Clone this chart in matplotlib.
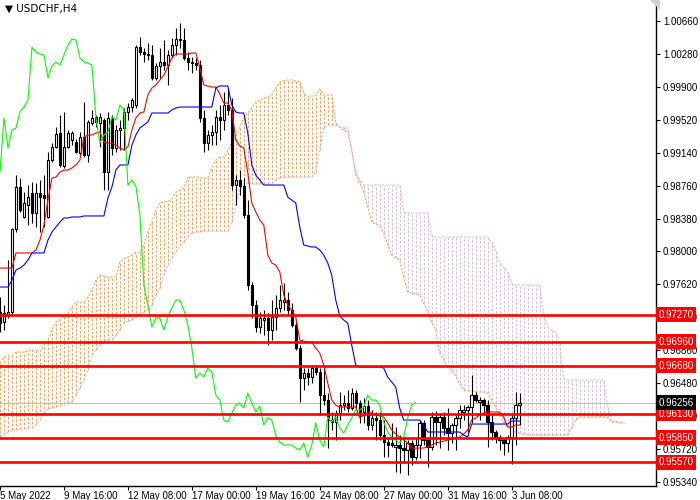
import numpy as np
import matplotlib
matplotlib.use("Agg")
import matplotlib.pyplot as plt
from matplotlib.patches import Polygon
from matplotlib.transforms import blended_transform_factory

plt.rcParams['font.family'] = ['Liberation Sans', 'DejaVu Sans']

# USDCHF H4 candles (bar 0 = 5 May 2022 00:00)
opens = [
    0.97302, 0.97186, 0.97267, 0.97302, 0.98259, 0.98744, 0.98398, 0.98536, 0.98674, 0.98444,
    0.98674, 0.98651, 0.98398, 0.99056, 0.99205, 0.99367, 0.98987, 0.99205, 0.99286, 0.99263,
    0.99136, 0.99321, 0.99113, 0.99482, 0.99552, 0.99482, 0.99517, 0.98917, 0.99541, 0.99194,
    0.99402, 0.99425, 0.99610, 0.99667, 0.99690, 1.00359, 1.00302, 1.00279, 1.00267, 1.00002,
    1.00141, 1.00187, 1.00152, 1.00267, 1.00382, 1.00452, 1.00440, 1.00233, 1.00187, 1.00175,
    1.00152, 0.99541, 0.99251, 0.99344, 0.99379, 0.99552, 0.99517, 0.99690, 0.99633, 0.98767,
    0.98825, 0.98756, 0.98421, 0.97613, 0.97382, 0.97129, 0.97209, 0.97233, 0.97094, 0.97244,
    0.97348, 0.97417, 0.97440, 0.97325, 0.97152, 0.96886, 0.96540, 0.96598, 0.96552, 0.96655,
    0.96609, 0.96344, 0.96286, 0.96055, 0.96032, 0.96136, 0.96228, 0.96251, 0.96194, 0.96367,
    0.96251, 0.96148, 0.96217, 0.95998, 0.96079, 0.96055, 0.95882, 0.95801, 0.95790, 0.95744,
    0.95767, 0.95732, 0.95709, 0.95790, 0.95628, 0.95767, 0.96021, 0.95824, 0.95744, 0.96090,
    0.96032, 0.96090, 0.95963, 0.95905, 0.95998, 0.96079, 0.96148, 0.96171, 0.96205, 0.96344,
    0.96263, 0.96286, 0.96228, 0.96032, 0.95917, 0.95859, 0.95824, 0.95790, 0.95859, 0.96079,
    0.96228,
]
highs = [
    0.97475, 0.97382, 0.97902, 0.98271, 0.98882, 0.98848, 0.98686, 0.98767, 0.98802, 0.98790,
    0.98825, 0.98882, 0.99148, 0.99251, 0.99436, 0.99575, 0.99610, 0.99402, 0.99390, 0.99298,
    0.99379, 0.99725, 0.99517, 0.99633, 0.99575, 0.99598, 0.99541, 0.99610, 0.99575, 0.99459,
    0.99517, 0.99656, 0.99713, 0.99771, 1.00382, 1.00475, 1.00348, 1.00405, 1.00382, 1.00175,
    1.00348, 1.00440, 1.00325, 1.00464, 1.00579, 1.00637, 1.00579, 1.00302, 1.00244, 1.00233,
    1.00210, 0.99633, 0.99402, 0.99459, 0.99633, 0.99690, 0.99840, 0.99887, 0.99771, 0.98882,
    0.98940, 0.98848, 0.98594, 0.97648, 0.97440, 0.97302, 0.97325, 0.97290, 0.97440, 0.97498,
    0.97613, 0.97636, 0.97532, 0.97406, 0.97209, 0.96920, 0.96655, 0.96655, 0.96690, 0.96690,
    0.96655, 0.96667, 0.96367, 0.96148, 0.96171, 0.96378, 0.96344, 0.96401, 0.96425, 0.96401,
    0.96286, 0.96309, 0.96286, 0.96171, 0.96148, 0.96148, 0.96055, 0.95859, 0.96021, 0.95975,
    0.95882, 0.95859, 0.95824, 0.95824, 0.95848, 0.96055, 0.96055, 0.95848, 0.96148, 0.96159,
    0.96136, 0.96148, 0.96194, 0.96021, 0.96113, 0.96228, 0.96228, 0.96228, 0.96575, 0.96378,
    0.96321, 0.96309, 0.96286, 0.96113, 0.95940, 0.95882, 0.95848, 0.95882, 0.96113, 0.96378,
    0.96367,
]
lows = [
    0.97071, 0.97094, 0.97233, 0.97256, 0.98225, 0.98456, 0.98387, 0.98305, 0.98328, 0.98282,
    0.98225, 0.98282, 0.98387, 0.99033, 0.99194, 0.98975, 0.98964, 0.99194, 0.99228, 0.99136,
    0.99113, 0.99090, 0.99033, 0.99459, 0.99436, 0.99205, 0.98709, 0.98709, 0.99113, 0.99148,
    0.99171, 0.99171, 0.99517, 0.99610, 0.99656, 1.00267, 1.00187, 1.00210, 0.99979, 0.99979,
    1.00002, 1.00094, 0.99921, 1.00233, 1.00267, 1.00348, 1.00210, 1.00094, 1.00059, 1.00094,
    0.99494, 0.99148, 0.99171, 0.99228, 0.99228, 0.99286, 0.99402, 0.99575, 0.98709, 0.98536,
    0.98651, 0.98387, 0.97555, 0.97233, 0.97071, 0.97059, 0.97036, 0.96920, 0.96978, 0.97094,
    0.97302, 0.97325, 0.97267, 0.97129, 0.96863, 0.96263, 0.96401, 0.96459, 0.96482, 0.96575,
    0.96113, 0.96228, 0.95732, 0.95940, 0.95824, 0.96055, 0.96171, 0.96148, 0.96171, 0.96171,
    0.96021, 0.96021, 0.95940, 0.95940, 0.95824, 0.95824, 0.95628, 0.95628, 0.95744, 0.95455,
    0.95444, 0.95559, 0.95421, 0.95536, 0.95594, 0.95617, 0.95767, 0.95513, 0.95709, 0.95767,
    0.95732, 0.95882, 0.95709, 0.95790, 0.95709, 0.95963, 0.96055, 0.95917, 0.96021, 0.96263,
    0.96055, 0.96113, 0.95744, 0.95824, 0.95790, 0.95709, 0.95651, 0.95686, 0.95548, 0.95767,
    0.95998,
]
closes = [
    0.97174, 0.97290, 0.97302, 0.98259, 0.98744, 0.98479, 0.98559, 0.98628, 0.98444, 0.98674,
    0.98628, 0.98617, 0.99056, 0.99205, 0.99356, 0.98998, 0.99205, 0.99367, 0.99367, 0.99148,
    0.99321, 0.99113, 0.99494, 0.99541, 0.99494, 0.99552, 0.98917, 0.99541, 0.99194, 0.99402,
    0.99425, 0.99610, 0.99667, 0.99748, 1.00359, 1.00302, 1.00279, 1.00267, 1.00002, 1.00141,
    1.00187, 1.00152, 1.00267, 1.00382, 1.00452, 1.00440, 1.00233, 1.00187, 1.00175, 1.00152,
    0.99541, 0.99251, 0.99344, 0.99379, 0.99552, 0.99517, 0.99690, 0.99633, 0.98767, 0.98825,
    0.98756, 0.98421, 0.97613, 0.97382, 0.97129, 0.97233, 0.97233, 0.97094, 0.97244, 0.97348,
    0.97440, 0.97440, 0.97325, 0.97152, 0.96886, 0.96540, 0.96598, 0.96552, 0.96655, 0.96609,
    0.96344, 0.96286, 0.96055, 0.96032, 0.96136, 0.96228, 0.96251, 0.96194, 0.96367, 0.96251,
    0.96148, 0.96217, 0.95998, 0.96079, 0.96055, 0.95882, 0.95801, 0.95767, 0.95767, 0.95767,
    0.95732, 0.95709, 0.95790, 0.95628, 0.95767, 0.96021, 0.95824, 0.95744, 0.96090, 0.96032,
    0.96090, 0.95963, 0.95905, 0.95998, 0.96079, 0.96171, 0.96171, 0.96205, 0.96344, 0.96286,
    0.96286, 0.96228, 0.96032, 0.95917, 0.95859, 0.95824, 0.95790, 0.95859, 0.96079, 0.96228,
    0.96256,
]

# Ichimoku lines as shown on the chart
tenkan = [
    0.97809, 0.97809, 0.97809, 0.97809, 0.97983, 0.97983, 0.97983, 0.97983, 0.97983, 0.98017,
    0.98132, 0.98305, 0.98594, 0.98848, 0.98859, 0.98917, 0.98940, 0.98940, 0.98964, 0.98998,
    0.99056, 0.99321, 0.99344, 0.99344, 0.99367, 0.99379, 0.99263, 0.99251, 0.99251, 0.99228,
    0.99194, 0.99171, 0.99205, 0.99402, 0.99541, 0.99598, 0.99610, 0.99806, 0.99887, 0.99921,
    0.99979, 1.00036, 1.00129, 1.00233, 1.00279, 1.00279, 1.00279, 1.00279, 1.00290, 1.00290,
    1.00118, 0.99921, 0.99910, 0.99898, 0.99898, 0.99817, 0.99713, 0.99713, 0.99633, 0.99286,
    0.99217, 0.99194, 0.98905, 0.98559, 0.98456, 0.98363, 0.98305, 0.97959, 0.97867, 0.97844,
    0.97763, 0.97498, 0.97382, 0.97325, 0.97244, 0.96978, 0.96967, 0.96955, 0.96955, 0.96886,
    0.96828, 0.96690, 0.96482, 0.96286, 0.96228, 0.96205, 0.96205, 0.96205, 0.96205, 0.96205,
    0.96079, 0.96113, 0.96136, 0.96136, 0.96125, 0.96102, 0.96090, 0.96021, 0.95940, 0.95894,
    0.95859, 0.95824, 0.95790, 0.95732, 0.95732, 0.95732, 0.95732, 0.95744, 0.95767, 0.95790,
    0.95801, 0.95813, 0.95824, 0.95836, 0.95848, 0.95859, 0.95894, 0.95940, 0.96055, 0.96079,
    0.96113, 0.96136, 0.96148, 0.96148, 0.96148, 0.96148, 0.96090, 0.95975, 0.95975, 0.95998,
    0.95998,
]
kijun = [
    0.97590, 0.97590, 0.97590, 0.97671, 0.97786, 0.97809, 0.97844, 0.97902, 0.97983, 0.97983,
    0.97983, 0.97983, 0.98132, 0.98225, 0.98282, 0.98340, 0.98387, 0.98387, 0.98398, 0.98398,
    0.98398, 0.98410, 0.98410, 0.98410, 0.98410, 0.98410, 0.98410, 0.98617, 0.98744, 0.98940,
    0.98998, 0.98998, 0.98998, 0.99228, 0.99344, 0.99425, 0.99459, 0.99494, 0.99598, 0.99598,
    0.99598, 0.99598, 0.99598, 0.99633, 0.99656, 0.99667, 0.99667, 0.99667, 0.99667, 0.99667,
    0.99667, 0.99667, 0.99667, 0.99667, 0.99887, 0.99910, 0.99910, 0.99910, 0.99690, 0.99610,
    0.99598, 0.99598, 0.99367, 0.98998, 0.98882, 0.98825, 0.98767, 0.98767, 0.98767, 0.98767,
    0.98767, 0.98767, 0.98628, 0.98594, 0.98559, 0.98282, 0.98075, 0.98063, 0.98052, 0.98052,
    0.98017, 0.97959, 0.97867, 0.97728, 0.97440, 0.97256, 0.97209, 0.97175, 0.96920, 0.96690,
    0.96667, 0.96667, 0.96667, 0.96667, 0.96667, 0.96667, 0.96655, 0.96552, 0.96494, 0.96436,
    0.96194, 0.96055, 0.96055, 0.96055, 0.96055, 0.96055, 0.95998, 0.95917, 0.95917, 0.95917,
    0.95917, 0.95917, 0.95917, 0.95917, 0.95917, 0.95917, 0.95882, 0.95859, 0.96009, 0.96009,
    0.96009, 0.96009, 0.96009, 0.96009, 0.96009, 0.96009, 0.96009, 0.96009, 0.96044, 0.96044,
    0.96044,
]
# Senkou spans, already shifted 26 bars ahead (157 bars incl. the future part)
span_a = [
    0.96713, 0.96782, 0.96794, 0.96794, 0.96840, 0.96840, 0.96840, 0.96851, 0.96863, 0.96863,
    0.96840, 0.96920, 0.96978, 0.97094, 0.97186, 0.97209, 0.97256, 0.97290, 0.97359, 0.97417,
    0.97417, 0.97417, 0.97475, 0.97555, 0.97671, 0.97728, 0.97717, 0.97705, 0.97705, 0.97705,
    0.97879, 0.97913, 0.97936, 0.97959, 0.97983, 0.97994, 0.98075, 0.98225, 0.98340, 0.98479,
    0.98559, 0.98571, 0.98582, 0.98605, 0.98686, 0.98709, 0.98732, 0.98859, 0.98859, 0.98859,
    0.98859, 0.98848, 0.98848, 0.98964, 0.99056, 0.99090, 0.99090, 0.99171, 0.99251, 0.99321,
    0.99436, 0.99541, 0.99598, 0.99656, 0.99725, 0.99748, 0.99771, 0.99783, 0.99806, 0.99887,
    0.99956, 0.99967, 0.99979, 0.99979, 0.99967, 0.99956, 0.99829, 0.99783, 0.99794, 0.99806,
    0.99875, 0.99806, 0.99806, 0.99806, 0.99482, 0.99436, 0.99402, 0.99379, 0.99171, 0.98882,
    0.98790, 0.98686, 0.98513, 0.98340, 0.98317, 0.98294, 0.98213, 0.98075, 0.97959, 0.97925,
    0.97902, 0.97705, 0.97532, 0.97521, 0.97509, 0.97498, 0.97406, 0.97302, 0.97186, 0.97094,
    0.96828, 0.96748, 0.96667, 0.96621, 0.96563, 0.96482, 0.96401, 0.96390, 0.96390, 0.96378,
    0.96378, 0.96378, 0.96367, 0.96286, 0.96205, 0.96113, 0.96032, 0.95986, 0.95940, 0.95917,
    0.95905, 0.95894, 0.95882, 0.95882, 0.95882, 0.95882, 0.95882, 0.95882, 0.95882, 0.95882,
    0.95882, 0.95882, 0.95882, 0.95963, 0.96055, 0.96090, 0.96090, 0.96090, 0.96090, 0.96090,
    0.96090, 0.96090, 0.96079, 0.96032, 0.96032, 0.96021, 0.96021,
]
span_b = [
    0.95859, 0.95882, 0.95917, 0.95940, 0.95940, 0.95952, 0.95952, 0.95963, 0.95963, 0.95998,
    0.96055, 0.96136, 0.96182, 0.96194, 0.96205, 0.96217, 0.96240, 0.96251, 0.96263, 0.96344,
    0.96425, 0.96517, 0.96632, 0.96805, 0.96863, 0.96920, 0.96967, 0.96978, 0.96978, 0.97036,
    0.97094, 0.97175, 0.97198, 0.97209, 0.97244, 0.97267, 0.97302, 0.97325, 0.97382, 0.97498,
    0.97579, 0.97728, 0.97844, 0.97925, 0.97994, 0.98063, 0.98109, 0.98167, 0.98213, 0.98225,
    0.98225, 0.98236, 0.98236, 0.98236, 0.98236, 0.98236, 0.98236, 0.98236, 0.98340, 0.98536,
    0.98709, 0.98779, 0.98790, 0.98779, 0.98779, 0.98779, 0.98779, 0.98779, 0.98779, 0.98825,
    0.98848, 0.98859, 0.98859, 0.98859, 0.98859, 0.98859, 0.98859, 0.98859, 0.98859, 0.98917,
    0.99171, 0.99425, 0.99459, 0.99459, 0.99459, 0.99436, 0.99436, 0.99425, 0.99171, 0.98917,
    0.98825, 0.98767, 0.98767, 0.98767, 0.98767, 0.98767, 0.98767, 0.98767, 0.98767, 0.98767,
    0.98767, 0.98456, 0.98444, 0.98444, 0.98444, 0.98444, 0.98444, 0.98444, 0.98190, 0.98167,
    0.98167, 0.98167, 0.98167, 0.98167, 0.98167, 0.98167, 0.98167, 0.98167, 0.98167, 0.98167,
    0.98167, 0.98167, 0.98167, 0.98109, 0.98017, 0.97867, 0.97821, 0.97763, 0.97636, 0.97613,
    0.97613, 0.97613, 0.97613, 0.97613, 0.97613, 0.97613, 0.97290, 0.97129, 0.97094, 0.97071,
    0.96955, 0.96540, 0.96517, 0.96517, 0.96517, 0.96517, 0.96517, 0.96517, 0.96517, 0.96517,
    0.96517, 0.96517, 0.96228, 0.96055, 0.96044, 0.96032, 0.96032,
]
chikou_shift = 26

levels = [0.97270, 0.96960, 0.96680, 0.96130, 0.95850, 0.95570]
bid = 0.96256

price_ticks = [1.00660, 1.00280, 0.99900, 0.99520, 0.99140, 0.98760, 0.98380, 0.98000,
               0.97620, 0.97240, 0.96860, 0.96480, 0.96100, 0.95720, 0.95340]
time_ticks = [0, 16, 32, 48, 64, 80, 96, 112, 128]
time_labels = ["5 May 2022", "9 May 16:00", "12 May 08:00", "17 May 00:00", "19 May 16:00",
               "24 May 08:00", "27 May 00:00", "31 May 16:00", "3 Jun 08:00"]

o = np.array(opens)
h = np.array(highs)
l = np.array(lows)
c = np.array(closes)
x = np.arange(len(c))
sa = np.array(span_a)
sb = np.array(span_b)
xc = np.arange(len(sa))

fig = plt.figure(figsize=(7, 5), dpi=100)
ax = fig.add_axes([0, 14 / 500, 656 / 700, 486 / 500])
ax.set_xlim(0.125, 164.125)
ax.set_ylim(0.95294, 1.00902)

# cloud: one dashed vertical stroke per bar, coloured by which span is on top
cloud_cols = np.where(sa >= sb, "#F4A460", "#D8BFD8")
ax.vlines(xc, np.minimum(sa, sb), np.maximum(sa, sb), colors=cloud_cols,
          linestyles=(0, (2.2, 1.4)), lw=0.85, zorder=1)
ax.plot(xc, sa, color="#F4A460", lw=0.8, ls=(0, (2, 1.4)), zorder=1)
ax.plot(xc, sb, color="#D8BFD8", lw=0.8, ls=(0, (2, 1.4)), zorder=1)

ax.axhline(bid, color="#c0c0c0", lw=0.8, zorder=2)

# candles
up = c >= o
ax.vlines(x, l, h, color="black", lw=0.8, zorder=3)
ax.bar(x[up], (c - o)[up], bottom=o[up], width=0.6, facecolor="white",
       edgecolor="black", lw=0.8, zorder=4)
ax.bar(x[~up], (c - o)[~up], bottom=o[~up], width=0.6, facecolor="black",
       edgecolor="black", lw=0.8, zorder=4)

# ichimoku lines
ax.plot(x, tenkan, color="red", lw=0.8, zorder=5)
ax.plot(x, kijun, color="blue", lw=0.8, zorder=5)
ax.plot(x[:len(c) - chikou_shift], c[chikou_shift:], color="#00ff00", lw=0.8, zorder=5)

# horizontal levels
for lv in levels:
    ax.axhline(lv, color="red", lw=1.9, zorder=6)

# axes look like the terminal
for side in ["left", "top"]:
    ax.spines[side].set_visible(False)
ax.spines["right"].set_linewidth(1.0)
ax.spines["bottom"].set_linewidth(1.0)
ax.yaxis.tick_right()
ax.set_yticks(price_ticks)
ax.set_yticklabels([f"{p:.5f}" for p in price_ticks])
ax.set_xticks(time_ticks)
ax.set_xticklabels(time_labels)
for lab in ax.get_xticklabels():
    lab.set_horizontalalignment("left")
ax.tick_params(axis="both", direction="out", length=3, width=0.8, labelsize=7,
               colors="black", pad=2)
ax.tick_params(axis="x", pad=0.5)

trans = blended_transform_factory(ax.transAxes, ax.transData)
for lv in levels:
    ax.text(1.004, lv, f"{lv:.5f}", transform=trans, ha="left", va="center",
            fontsize=7, color="white", clip_on=False, zorder=10,
            bbox=dict(boxstyle="square,pad=0.25", fc="red", ec="none"))
ax.text(1.004, bid, f"{bid:.5f}", transform=trans, ha="left", va="center",
        fontsize=7, color="white", clip_on=False, zorder=10,
        bbox=dict(boxstyle="square,pad=0.25", fc="black", ec="none"))

fig.text(5 / 700, 1 - 9 / 500, "\u25bc USDCHF,H4", fontsize=7.5, va="center", ha="left",
         family=['DejaVu Sans'])
fig.patches.append(Polygon([[650 / 700, 1.0], [660 / 700, 1.0], [660 / 700, 1 - 10 / 500]],
                           closed=True, transform=fig.transFigure, fc="#d0d0d0", ec="none"))

fig.savefig("out.png", dpi=100)
